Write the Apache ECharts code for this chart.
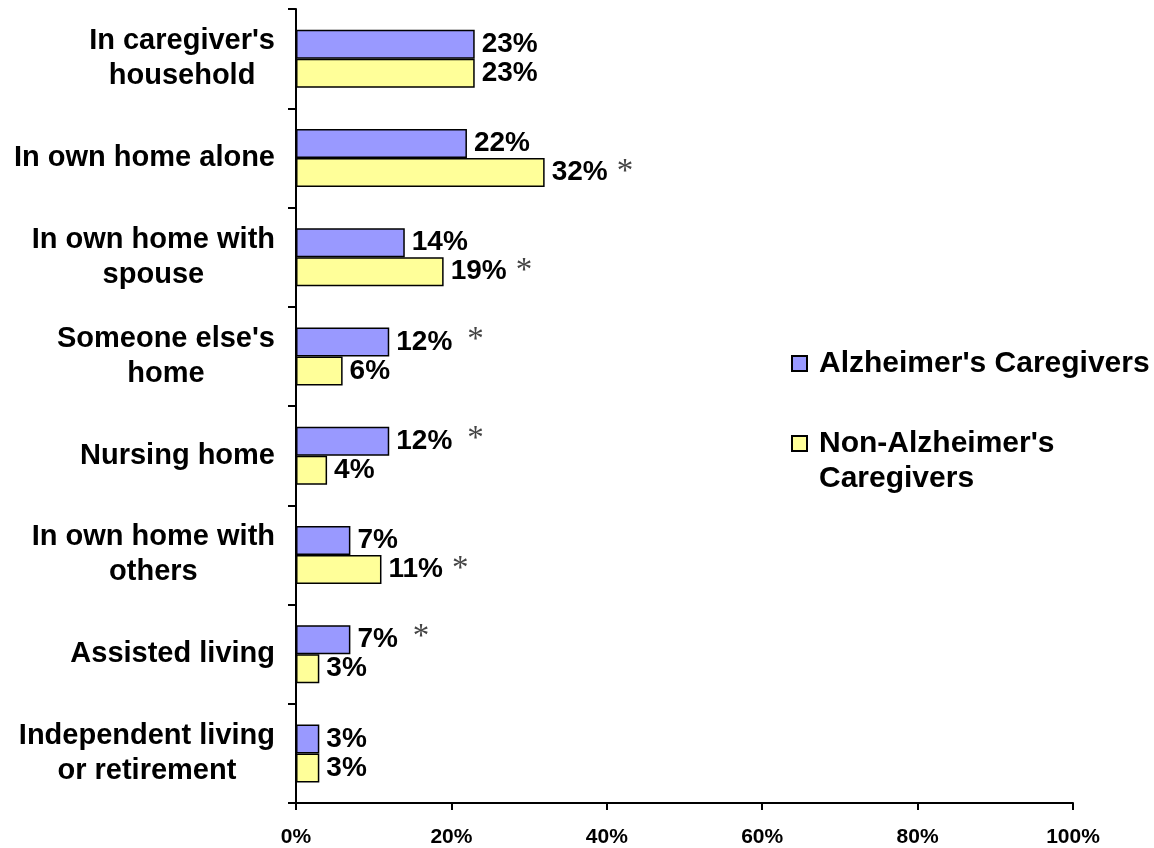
<!DOCTYPE html>
<html>
<head>
<meta charset="utf-8">
<script src="https://cdn.jsdelivr.net/npm/echarts@6/dist/echarts.min.js"></script>
<style>
  html, body { margin: 0; padding: 0; background: #fff; }
  #chart { width: 1154px; height: 848px; }
</style>
</head>
<body>
<div id="chart"></div>
<script>
// categories, top to bottom
var categories = [
  "In caregiver's\nhousehold",
  "In own home alone",
  "In own home with\nspouse",
  "Someone else's\nhome",
  "Nursing home",
  "In own home with\nothers",
  "Assisted living",
  "Independent living\nor retirement"
];
var alzValues = [23, 22, 14, 12, 12, 7, 7, 3];
var nonAlzValues = [23, 32, 19, 6, 4, 11, 3, 3];
// significance markers (*)
var alzStar = [0, 0, 0, 1, 1, 0, 1, 0];
var nonAlzStar = [0, 1, 1, 0, 0, 1, 0, 0];
var xTicks = [0, 20, 40, 60, 80, 100];

var FONT = "'Liberation Sans', Arial, sans-serif";

function valueLabel(stars) {
  return function (p) {
    var s = "{v|" + p.value + "%}";
    if (stars[p.dataIndex]) s += "{s|*}";
    return s;
  };
}

function labelRich(raised) {
  return {
    v: { fontFamily: FONT, fontWeight: "bold", fontSize: 28, color: "#000", lineHeight: 30 },
    s: {
      fontFamily: "'Liberation Serif', 'Times New Roman', serif",
      fontSize: 33,
      color: "#444",
      padding: raised ? [0, 0, 4, 15] : [0, 0, 0, 9],
      lineHeight: 30
    }
  };
}

var chart = echarts.init(document.getElementById("chart"));
chart.setOption({
  animation: false,
  backgroundColor: "#fff",
  grid: { left: 296, right: 81, top: 9, bottom: 43 },
  legend: {
    orient: "vertical",
    left: 791,
    top: 346,
    padding: 0,
    itemGap: 10,
    itemWidth: 15,
    itemHeight: 15,
    icon: "rect",
    data: ["Alzheimer's Caregivers", "Non-Alzheimer's Caregivers"],
    formatter: function (name) {
      // blank first line keeps the icon level with the first text line
      return name === "Non-Alzheimer's Caregivers" ? "\nNon-Alzheimer's\nCaregivers" : name;
    },
    textStyle: {
      fontFamily: FONT, fontWeight: "bold", fontSize: 30, color: "#000",
      lineHeight: 35, padding: [0, 0, 0, 7]
    }
  },
  xAxis: {
    type: "value",
    min: 0,
    max: 100,
    interval: 20,
    splitLine: { show: false },
    axisLine: { show: true, lineStyle: { color: "#000", width: 2 } },
    axisTick: { show: true, length: 7, lineStyle: { color: "#000", width: 2 } },
    axisLabel: {
      margin: 24,
      fontFamily: FONT, fontWeight: "bold", fontSize: 21, color: "#000",
      formatter: function (v) { return xTicks.indexOf(v) >= 0 ? v + "%" : ""; }
    }
  },
  yAxis: {
    type: "category",
    inverse: true,
    data: categories,
    axisLine: { show: true, lineStyle: { color: "#000", width: 2 } },
    axisTick: { show: true, length: 8, lineStyle: { color: "#000", width: 2 } },
    axisLabel: {
      margin: 21,
      formatter: function (v) {
        return v.split("\n").map(function (l) { return "{c|" + l + "}"; }).join("\n");
      },
      rich: {
        c: { align: "center", fontFamily: FONT, fontWeight: "bold", fontSize: 29, color: "#000", lineHeight: 35 }
      }
    }
  },
  series: [
    {
      name: "Alzheimer's Caregivers",
      type: "bar",
      data: alzValues,
      barWidth: 29,
      barGap: "0%",
      itemStyle: { color: "#9999FF", borderColor: "#000", borderWidth: 1.5 },
      label: {
        show: true, position: "right", distance: 7,
        formatter: valueLabel(alzStar),
        rich: labelRich(true)
      }
    },
    {
      name: "Non-Alzheimer's Caregivers",
      type: "bar",
      data: nonAlzValues,
      barWidth: 29,
      barGap: "0%",
      itemStyle: { color: "#FFFF99", borderColor: "#000", borderWidth: 1.5 },
      label: {
        show: true, position: "right", distance: 7,
        formatter: valueLabel(nonAlzStar),
        rich: labelRich(false)
      }
    }
  ]
});
</script>
</body>
</html>
